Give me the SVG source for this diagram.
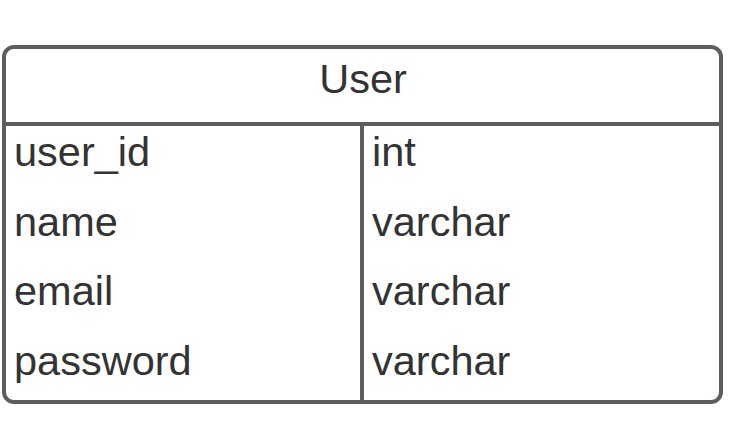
<svg xmlns="http://www.w3.org/2000/svg" width="733" height="424" viewBox="0 0 733 424">
<style>
.frame{fill:#ffffff;stroke:#5e5e5e;stroke-width:4}
.ln{stroke:#5e5e5e;stroke-width:4;fill:none}
.t{font-family:"Liberation Sans",Arial,sans-serif;font-size:41.5px;fill:#333333}
</style>
<rect width="733" height="424" fill="#ffffff"/>
<g id="user-entity">
<rect class="frame" x="4" y="47" width="717" height="355" rx="10" ry="10"/>
<line class="ln" x1="4" y1="124" x2="721" y2="124"/>
<line class="ln" x1="362" y1="124" x2="362" y2="402"/>
<text class="t" x="363" y="93" text-anchor="middle">User</text>
<text class="t" x="14" y="166">user_id</text>
<text class="t" x="372" y="166">int</text>
<text class="t" x="14" y="235.5">name</text>
<text class="t" x="372" y="235.5">varchar</text>
<text class="t" x="14" y="305">email</text>
<text class="t" x="372" y="305">varchar</text>
<text class="t" x="14" y="374.5">password</text>
<text class="t" x="372" y="374.5">varchar</text>
</g>
<g id="connectors"></g>
</svg>
